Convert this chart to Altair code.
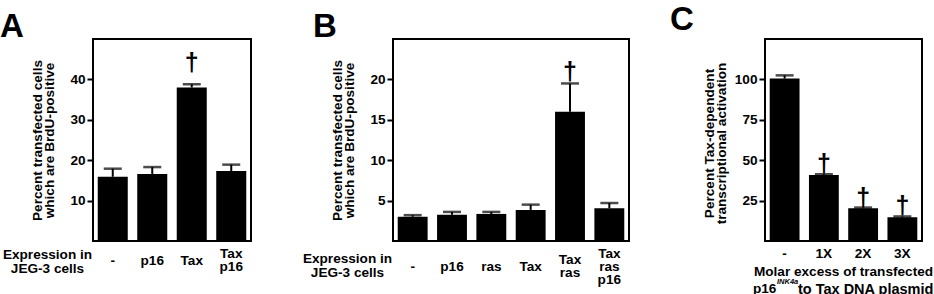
import altair as alt
import pandas as pd

FONT = "Liberation Sans"
H = 202          # plot-area height shared by the three panels
SPACING = 136    # gap between neighbouring panels
LINE = 13        # line spacing of stacked category labels

# Panel A: BrdU-positive cells, JEG-3
a_groups = ["-", "p16", "Tax", "Tax p16"]
a_mean = [15.9, 16.6, 38.0, 17.3]
a_upper = [17.9, 18.3, 38.8, 18.9]
a_sig = [False, False, True, False]

# Panel B: BrdU-positive cells with ras
b_groups = ["-", "p16", "ras", "Tax", "Tax ras", "Tax ras p16"]
b_mean = [3.0, 3.25, 3.35, 3.85, 16.0, 4.05]
b_upper = [3.2, 3.6, 3.6, 4.5, 19.5, 4.7]
b_sig = [False, False, False, False, True, False]

# Panel C: Tax-dependent transcriptional activation
c_groups = ["-", "1X", "2X", "3X"]
c_mean = [100.5, 40.8, 20.2, 14.7]
c_upper = [102.5, 41.3, 20.7, 15.2]
c_sig = [False, True, True, True]

a_ticks = [10, 20, 30, 40]
b_ticks = [5, 10, 15, 20]
c_ticks = [25, 50, 75, 100]


def one_row():
    return alt.Chart(pd.DataFrame({"k": [0]}))


def label_layers(groups, centre):
    """Category names stacked one word per line, each block centred at `centre`."""
    rows = []
    for g in groups:
        words = g.split(" ")
        for i, w in enumerate(words):
            rows.append({"group": g, "line": w, "idx": i, "n": len(words)})
    df = pd.DataFrame(rows)
    layers = []
    for (n, i) in sorted({(r["n"], r["idx"]) for r in rows}):
        ypos = H + centre + LINE * (i - (n - 1) / 2)
        layers.append(
            alt.Chart(df).transform_filter(
                f"datum.n == {n} && datum.idx == {i}"
            ).mark_text(font=FONT, fontSize=13.6, fontWeight="bold",
                        align="center", baseline="middle", color="black"
            ).encode(x=alt.X("group:N", sort=groups), y=alt.value(ypos),
                     text="line:N")
        )
    return layers


def panel(groups, mean, upper, sig, ymax, ticks, ytitle, frame_w, view_w,
          xtitle, xtitle_y, label_centre, dagger_dy, letter, letter_x,
          letter_y, ytitle_y=H / 2, extra=()):
    df = pd.DataFrame({"group": groups, "mean": mean, "upper": upper, "sig": sig})
    base = alt.Chart(df)

    x_axis_kw = dict(labels=False, ticks=False, domain=False)
    if xtitle is not None:
        x_axis_kw.update(title=xtitle, titleX=-46, titleY=xtitle_y,
                         titleAlign="center", titleBaseline="middle",
                         titleAngle=0, titleLineHeight=13.5)
    else:
        x_axis_kw.update(title=None)

    x = alt.X("group:N", sort=groups,
              scale=alt.Scale(range=[0, frame_w], paddingInner=0.24,
                              paddingOuter=0.12),
              axis=alt.Axis(**x_axis_kw))
    y = alt.Y("mean:Q",
              scale=alt.Scale(domain=[0, ymax], nice=False, zero=True),
              axis=alt.Axis(values=ticks, title=ytitle, domain=False,
                            grid=False, tickSize=6, tickWidth=2,
                            tickColor="black", labelPadding=2,
                            titleX=-56, titleY=ytitle_y, titleAlign="center",
                            titleBaseline="middle", titleAngle=270,
                            titleLineHeight=12.5))

    bars = base.mark_bar(color="black").encode(x=x, y=y)
    stems = base.mark_rule(color="black", strokeWidth=2).encode(
        x=alt.X("group:N", sort=groups), y="mean:Q", y2="upper:Q")
    caps = base.mark_tick(color="black", orient="horizontal", size=18,
                          thickness=2.5).encode(
        x=alt.X("group:N", sort=groups), y="upper:Q")
    daggers = base.transform_filter("datum.sig").mark_text(
        text="\u2020", font=FONT, fontSize=25, fontWeight="bold",
        baseline="bottom", dy=dagger_dy, color="black").encode(
        x=alt.X("group:N", sort=groups), y="upper:Q")
    frame = one_row().mark_rect(filled=False, stroke="black",
                                strokeWidth=2).encode(
        x=alt.value(0), x2=alt.value(frame_w), y=alt.value(0), y2=alt.value(H))
    tag = one_row().mark_text(text=letter, font=FONT, fontSize=33,
                              fontWeight="bold", align="left",
                              baseline="alphabetic", color="black").encode(
        x=alt.value(letter_x), y=alt.value(letter_y))

    return alt.layer(bars, stems, caps, daggers, frame, tag,
                     *label_layers(groups, label_centre), *extra).properties(
        width=view_w, height=H)


# keeps a fixed margin at the top-left corner of the figure
corner = one_row().mark_rect(opacity=0).encode(
    x=alt.value(-93), x2=alt.value(-92), y=alt.value(-39), y2=alt.value(-38))

bold13 = dict(font=FONT, fontSize=13.6, fontWeight="bold", color="black")
c_title = [
    one_row().mark_text(text="Molar excess of transfected", align="center",
                        baseline="alphabetic", **bold13).encode(
        x=alt.value(78.5), y=alt.value(237)),
    one_row().mark_text(text="p16", align="left", baseline="alphabetic",
                        **bold13).encode(x=alt.value(-12), y=alt.value(254)),
    one_row().mark_text(text="INK4a", align="left", baseline="alphabetic",
                        font=FONT, fontSize=7.5, fontWeight="bold",
                        fontStyle="italic", color="black").encode(
        x=alt.value(12), y=alt.value(245)),
    one_row().mark_text(text="to Tax DNA plasmid", align="left",
                        baseline="alphabetic", font=FONT, fontSize=14.5,
                        fontWeight="bold", color="black").encode(
        x=alt.value(33), y=alt.value(254.5)),
]

ytitle_ab = ["Percent transfected cells", "which are BrdU-positive"]
xtitle_ab = ["Expression in", "JEG-3 cells"]

panel_a = panel(a_groups, a_mean, a_upper, a_sig, 50, a_ticks, ytitle_ab,
                158, 164, xtitle_ab, 13.5, 19.5, -8, "A", -93, -2,
                extra=(corner,))
panel_b = panel(b_groups, b_mean, b_upper, b_sig, 25, b_ticks, ytitle_ab,
                236, 236, xtitle_ab, 17.5, 25.5, 2, "B", -80, -2)
panel_c = panel(c_groups, c_mean, c_upper, c_sig, 125, c_ticks,
                ["Percent Tax-dependent", "transcriptional activation"],
                157, 157, None, 0, 13, 3, "C", -95, -9, ytitle_y=104,
                extra=tuple(c_title))

chart = alt.hconcat(panel_a, panel_b, panel_c, spacing=SPACING,
                    bounds="flush").properties(
    padding=0, background="white"
).configure_view(stroke=None).configure_axis(
    labelFont=FONT, titleFont=FONT, labelFontSize=13.6, titleFontSize=13.6,
    labelFontWeight="bold", titleFontWeight="bold", labelColor="black",
    titleColor="black"
)

chart.save("out.html", embed_options={"renderer": "svg", "actions": False})
